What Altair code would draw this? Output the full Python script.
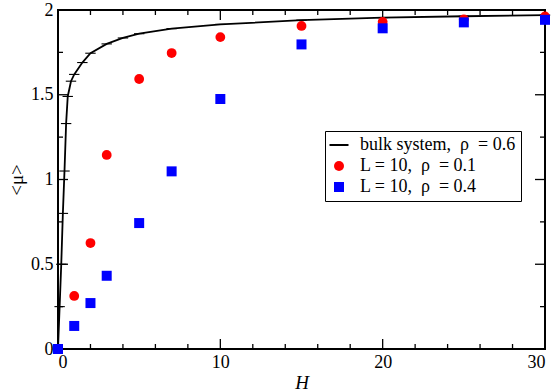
import altair as alt
import pandas as pd

# bulk system curve
bulk_H = [0, 0.1, 0.2, 0.3, 0.4, 0.5, 0.6, 0.8, 1, 1.5, 2, 3, 4, 5, 7, 10, 15, 20, 25, 30]
bulk_mu = [0, 0.25, 0.5, 0.8, 1.05, 1.33, 1.49, 1.58, 1.62, 1.69, 1.745, 1.80, 1.835, 1.86,
           1.89, 1.915, 1.94, 1.955, 1.963, 1.97]

pts_H = [0, 1, 2, 3, 5, 7, 10, 15, 20, 25, 30]
red_mu = [0, 0.313, 0.625, 1.145, 1.593, 1.746, 1.84, 1.906, 1.93, 1.945, 1.962]
blue_mu = [0, 0.136, 0.271, 0.432, 0.743, 1.048, 1.475, 1.797, 1.892, 1.927, 1.942]

series = ["bulk system,\u2002ρ\u2002= 0.6", "L = 10,\u2002ρ\u2002= 0.1", "L = 10,\u2002ρ\u2002= 0.4"]
colors = ["#000000", "#ff0000", "#0000ff"]
shapes = ["M-1.9,-0.2H1.9V0.2H-1.9Z", "circle", "square"]

x_major = [0, 10, 20, 30]
x_minor = [2, 4, 6, 8, 12, 14, 16, 18, 22, 24, 26, 28]
y_major = [0, 0.5, 1, 1.5, 2]
y_minor = [0.25, 0.75, 1.25, 1.75]

W, H = 487, 339
FONT = "Times New Roman, Liberation Serif, serif"

bulk_df = pd.DataFrame({"H": bulk_H, "mu": bulk_mu, "s": series[0]})
red_df = pd.DataFrame({"H": pts_H, "mu": red_mu, "s": series[1]})
blue_df = pd.DataFrame({"H": pts_H, "mu": blue_mu, "s": series[2]})

xs = alt.Scale(domain=[0, 30], nice=False, zero=False)
ys = alt.Scale(domain=[0, 2], nice=False, zero=False)
cs = alt.Scale(domain=series, range=colors)
ss = alt.Scale(domain=series, range=shapes)

legend = alt.Legend(
    title=None, orient="none", legendX=267, legendY=121,
    strokeColor="black", padding=5, fillColor="white",
    labelFont=FONT, labelFontSize=18, labelColor="black",
    symbolSize=100, rowPadding=3, labelOffset=12, symbolStrokeWidth=0,
)

xaxis = alt.Axis(values=x_major, title="H", titleFont=FONT, titleFontSize=19,
                 titleFontStyle="italic", titleFontWeight="normal", titleColor="black",
                 titlePadding=2, labelFont=FONT, labelFontSize=18, labelColor="black",
                 labelPadding=4, ticks=False, domain=False, grid=False)
yaxis = alt.Axis(values=y_major, title="<μ>", titleFont=FONT, titleFontSize=19,
                 titleFontWeight="normal", titleColor="black", titlePadding=4,
                 labelFont=FONT, labelFontSize=18, labelColor="black", labelPadding=5,
                 format="~g", ticks=False, domain=False, grid=False)

line = alt.Chart(bulk_df).mark_line(strokeWidth=1.8).encode(
    x=alt.X("H:Q", scale=xs, axis=xaxis),
    y=alt.Y("mu:Q", scale=ys, axis=yaxis),
    color=alt.Color("s:N", scale=cs, legend=legend),
    shape=alt.Shape("s:N", scale=ss, legend=legend),
)

red = alt.Chart(red_df).mark_point(filled=True, opacity=1, size=96).encode(
    x=alt.X("H:Q", scale=xs),
    y=alt.Y("mu:Q", scale=ys),
    color=alt.Color("s:N", scale=cs, legend=legend),
    shape=alt.Shape("s:N", scale=ss, legend=legend),
)
blue = alt.Chart(blue_df).mark_point(filled=True, opacity=1, size=100).encode(
    x=alt.X("H:Q", scale=xs),
    y=alt.Y("mu:Q", scale=ys),
    color=alt.Color("s:N", scale=cs, legend=legend),
    shape=alt.Shape("s:N", scale=ss, legend=legend),
)

# inward ticks
def xticks(vals, length):
    df = pd.DataFrame({"v": vals})
    b = alt.Chart(df).mark_rule(color="black", strokeWidth=1.3).encode(
        x=alt.X("v:Q", scale=xs), y=alt.value(H), y2=alt.value(H - length))
    t = alt.Chart(df).mark_rule(color="black", strokeWidth=1.3).encode(
        x=alt.X("v:Q", scale=xs), y=alt.value(0), y2=alt.value(length))
    return b + t

def yticks(vals, length):
    df = pd.DataFrame({"v": vals})
    l = alt.Chart(df).mark_rule(color="black", strokeWidth=1.3).encode(
        y=alt.Y("v:Q", scale=ys), x=alt.value(0), x2=alt.value(length))
    r = alt.Chart(df).mark_rule(color="black", strokeWidth=1.3).encode(
        y=alt.Y("v:Q", scale=ys), x=alt.value(W), x2=alt.value(W - length))
    return l + r

chart = alt.layer(
    xticks(x_major, 10), xticks(x_minor, 5), yticks(y_major, 10), yticks(y_minor, 5),
    line, red, blue,
).resolve_scale(color="shared", shape="shared").properties(
    width=W, height=H,
    padding={"left": 58, "top": 10, "right": 8, "bottom": 43},
    autosize=alt.AutoSizeParams(type="none"),
    background="white",
).configure_view(stroke="black", strokeWidth=2)

chart.save("out.html", embed_options={"renderer": "svg", "actions": False})
